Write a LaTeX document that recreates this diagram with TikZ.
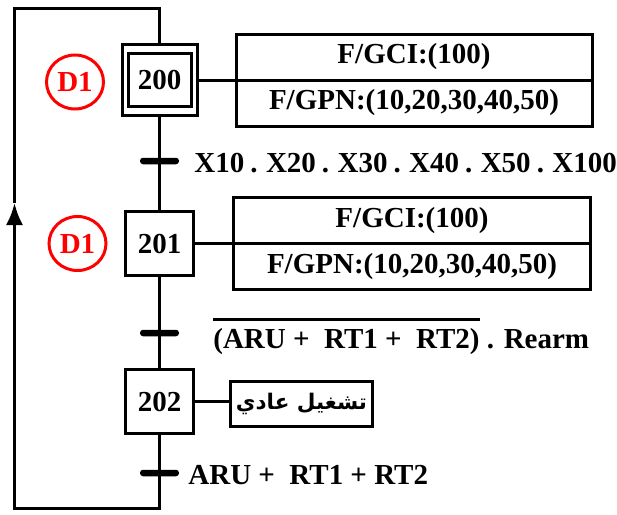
\documentclass[tikz,border=0pt]{standalone}
\usepackage{fontspec}
\setmainfont{Liberation Serif}
\newfontfamily\arabicfont[Script=Arabic]{DejaVu Sans}
\TeXXeTstate=1
\usetikzlibrary{shapes.geometric,arrows.meta}
\tikzstyle{etape}=[draw, line width=3pt, minimum width=68pt,
  minimum height=64pt, inner sep=0pt]
\tikzstyle{initiale}=[etape, minimum width=75pt, minimum height=71pt]
\tikzstyle{interne}=[etape, minimum width=63pt, minimum height=53pt]
\tikzstyle{action}=[draw, line width=3pt, minimum width=356pt,
  minimum height=46pt, inner sep=0pt]
\tikzstyle{barre}=[fill=black, minimum width=39pt, minimum height=6.5pt,
  inner sep=0pt, rounded corners=3pt]
\tikzstyle{recept}=[anchor=base west, inner sep=0pt]
\tikzstyle{repere}=[ellipse, draw=red, line width=3pt, text=red,
  minimum width=57pt, minimum height=54pt, inner sep=0pt]
\tikzstyle{line}=[draw, line width=3pt]
\newcommand{\etape}[2]{node (e#1) [etape] {#2}}
\newcommand{\recept}[2]{node (r#1) [recept] {#2}}
\newcommand{\surligne}[1]{\vbox{\hrule height 2.6pt\kern 7pt\hbox{#1}}}

\begin{document}
\begin{tikzpicture}[x=1pt, y=-1pt, font=\bfseries\fontsize{29}{32}\selectfont]
\useasboundingbox (0,0) rectangle (617,514);

% Draw diagram elements
\path (159.5,80) node (e200o) [initiale] {};
\path (e200o) node (e200) [interne] {200};
\path (e200o)+(0,163.5) \etape{201}{201};
\path (e201)+(0,158.0) \etape{202}{202};

\path (e200o)+(0,81.0) node (t1) [barre] {};
\path (e201)+(0,89.5) node (t2) [barre] {};
\path (e202)+(0,71.5) node (t3) [barre] {};

\path (t1.east)+(15,11) \recept{1}{\spaceskip=6pt X10 . X20 . X30 . X40 . X50 . X100};
\path (t2.east)+(34,15) \recept{2}{\surligne{(ARU +\ \ RT1 +\ \ RT2)} . Rearm};
\path (t3.east)+(9,11) \recept{3}{ARU +\ \ RT1 + RT2};

\path (e200o)+(254.5,-23) node (a1) [action] {F/GCI:(100)};
\path (e200o)+(254.5,23) node (a2) [action] {F/GPN:(10,20,30,40,50)};
\path (e201)+(252.5,-23) node (b1) [action, minimum width=357pt] {F/GCI:(100)};
\path (e201)+(252.5,23) node (b2) [action, minimum width=357pt] {F/GPN:(10,20,30,40,50)};
\path (e202)+(142,2.5) node (c1) [action, minimum width=142pt, minimum height=45pt,
  font=\arabicfont\bfseries\fontsize{21.5}{24}\selectfont] {\beginR تشغيل عادي\endR};

\path (e200o)+(-84.5,2) node (d1) [repere] {D1};
\path (e201)+(-82,0) node (d2) [repere] {D1};

% loop back corners
\coordinate (bas) at (159.5,508.5);
\coordinate (coin1) at (14.5,508.5);
\coordinate (fleche) at (14.5,203);
\coordinate (coin2) at (14.5,8.5);
\coordinate (haut) at (159.5,8.5);

% Draw arrows between elements
\path [line] (e200o) -- (e201);
\path [line] (e201) -- (e202);
\path [line, -{Latex[length=22pt,width=17pt]}] (e202) -- (bas) -- (coin1) -- (fleche);
\path [line] (fleche) -- (coin2) -- (haut) -- (e200o);

\path [line] (e200o.east) -- (e200o.east -| a1.west);
\path [line] (e201.east) -- (e201.east -| b1.west);
\path [line] (e202.east) -- (e202.east -| c1.west);
\end{tikzpicture}
\end{document}
